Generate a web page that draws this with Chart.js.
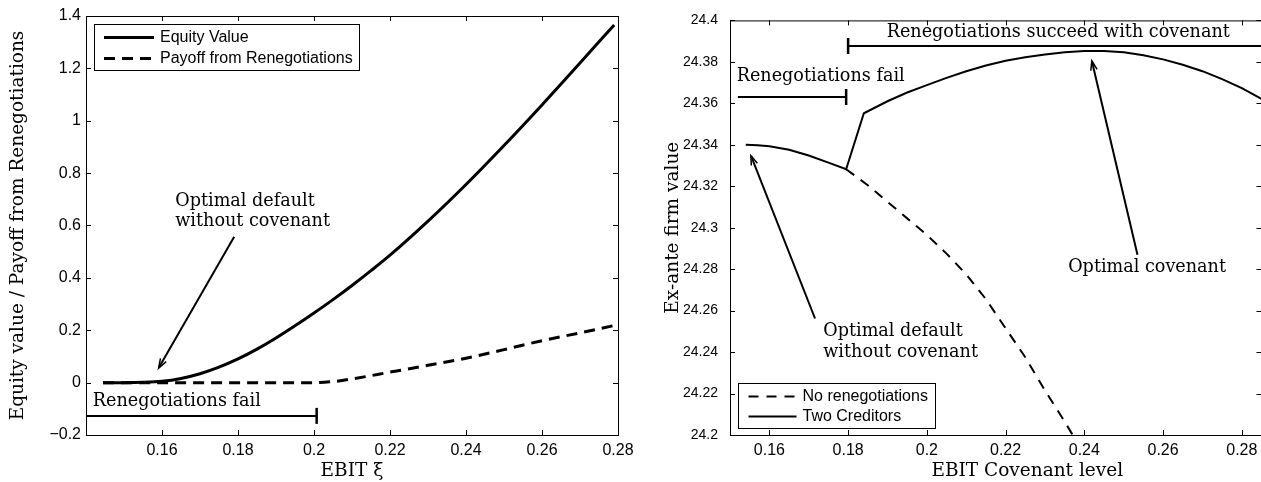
<!DOCTYPE html>
<html>
<head>
<meta charset="utf-8">
<script src="https://cdn.jsdelivr.net/npm/chart.js@4.4.0/dist/chart.umd.min.js"></script>
<style>
  html, body { margin: 0; padding: 0; background: #fff; overflow: hidden; }
  #wrap { position: relative; width: 1261px; height: 482px; overflow: hidden; }
  #leftChart { position: absolute; left: 0; top: 0; }
  #rightChart { position: absolute; left: 640px; top: 0; }
</style>
</head>
<body>
<div id="wrap">
  <canvas id="leftChart" width="640" height="482"></canvas>
  <canvas id="rightChart" width="632" height="482"></canvas>
</div>
<script>
// Left panel: equity value and payoff from renegotiations vs EBIT
const ebitEquity = [0.1445, 0.150, 0.155, 0.160, 0.165, 0.170, 0.175, 0.180, 0.185, 0.190, 0.195, 0.200, 0.205, 0.210, 0.215, 0.220, 0.230, 0.240, 0.250, 0.260, 0.270, 0.279];
const equityValue = [0, 0, 0.001, 0.005, 0.016, 0.034, 0.059, 0.0905, 0.128, 0.1705, 0.217, 0.266, 0.317, 0.371, 0.4275, 0.4865, 0.6165, 0.7565, 0.9055, 1.0605, 1.2205, 1.366];
const ebitPayoff = [0.1445, 0.160, 0.180, 0.200, 0.205, 0.210, 0.220, 0.230, 0.240, 0.250, 0.260, 0.270, 0.279];
const payoffValue = [0, 0, 0, 0, 0.004, 0.014, 0.040, 0.066, 0.093, 0.126, 0.160, 0.190, 0.218];

// Right panel: ex-ante firm value vs covenant level
const covenantTwo = [0.154, 0.157, 0.160, 0.165, 0.170, 0.175, 0.1795, 0.184, 0.190, 0.195, 0.200, 0.205, 0.210, 0.215, 0.220, 0.225, 0.230, 0.235, 0.240, 0.245, 0.250, 0.255, 0.260, 0.265, 0.270, 0.275, 0.280, 0.285];
const valueTwo = [24.3400, 24.3398, 24.3393, 24.3376, 24.3348, 24.3314, 24.3282, 24.3552, 24.3610, 24.3652, 24.3688, 24.3723, 24.3755, 24.3782, 24.3805, 24.3822, 24.3835, 24.3846, 24.3852, 24.3852, 24.3846, 24.3832, 24.3812, 24.3786, 24.3755, 24.3717, 24.3673, 24.3622];
const covenantNoReneg = [0.1795, 0.185, 0.190, 0.195, 0.200, 0.205, 0.210, 0.215, 0.220, 0.225, 0.230, 0.235, 0.2375];
const valueNoReneg = [24.3282, 24.3205, 24.3125, 24.3045, 24.2965, 24.2875, 24.2775, 24.2655, 24.2515, 24.2375, 24.2215, 24.2065, 24.1985];

// tick values
const leftXTicks = [0.16, 0.18, 0.2, 0.22, 0.24, 0.26, 0.28];
const leftYTicks = [-0.2, 0, 0.2, 0.4, 0.6, 0.8, 1, 1.2, 1.4];
const rightXTicks = [0.16, 0.18, 0.2, 0.22, 0.24, 0.26, 0.28];
const rightYTicks = [24.2, 24.22, 24.24, 24.26, 24.28, 24.3, 24.32, 24.34, 24.36, 24.38, 24.4];

// regime spans: [xStart, xEnd], level, which end carries the bracket
const leftSpans = [{ x: [0.14, 0.2007], y: -0.127, cap: 'end' }];
const rightSpans = [
  { x: [0.152, 0.1795], y: 24.363, cap: 'end' },
  { x: [0.18, 0.285], y: 24.3876, cap: 'start' }
];

// text notes and arrows, in data units
const leftNotes = {
  texts: [
    { x: 0.1635, y: 0.692, text: 'Optimal default' },
    { x: 0.1635, y: 0.616, text: 'without covenant' },
    { x: 0.1418, y: -0.073, text: 'Renegotiations fail' }
  ],
  arrows: [{ from: [0.179, 0.5575], to: [0.1591, 0.055] }]
};
const rightNotes = {
  texts: [
    { x: 0.1898, y: 24.3943, text: 'Renegotiations succeed with covenant' },
    { x: 0.1517, y: 24.3729, text: 'Renegotiations fail' },
    { x: 0.1737, y: 24.2498, text: 'Optimal default' },
    { x: 0.1737, y: 24.2400, text: 'without covenant' },
    { x: 0.2359, y: 24.2806, text: 'Optimal covenant' }
  ],
  arrows: [
    { from: [0.1716, 24.2562], to: [0.1553, 24.3348] },
    { from: [0.2535, 24.2870], to: [0.2419, 24.3805] }
  ],
  xTitle: { x: 0.2255, text: 'EBIT Covenant level' }
};

const SERIF = "'DejaVu Serif', serif";
const SANS = "'Liberation Sans', Arial, sans-serif";
const NOTE_SIZE = 17.6;
const TITLE_SIZE = 18.5;
Chart.defaults.font.family = SANS;
Chart.defaults.font.size = 16;
Chart.defaults.color = '#000';

// condensed face for the right y labels when one is installed, else a smaller size
function narrowTickFont() {
  const c = document.createElement('canvas').getContext('2d');
  c.font = '16px ' + SANS;
  const base = c.measureText('24.38').width;
  c.font = "16px 'Liberation Sans Narrow', " + SANS;
  if (c.measureText('24.38').width < base - 3) {
    return { family: "'Liberation Sans Narrow', " + SANS, size: 16 };
  }
  return { family: SANS, size: 14 };
}

const pts = (xs, ys) => xs.map((x, i) => ({ x, y: ys[i] }));
const fmt = v => String(+v.toFixed(3)).replace('-', '\u2212');

function spanDatasets(spans, width) {
  return spans.map(s => ({
    data: [{ x: s.x[0], y: s.y }, { x: s.x[1], y: s.y }],
    showLine: true,
    borderColor: '#000',
    borderWidth: width,
    pointStyle: 'line',
    rotation: 90,
    pointBorderWidth: 2.5,
    pointBorderColor: '#000',
    pointRadius: s.cap === 'end' ? [0, 8] : [8, 0],
    pointHoverRadius: 0
  }));
}

function drawArrow(ctx, x1, y1, x2, y2) {
  const ang = Math.atan2(y2 - y1, x2 - x1);
  const len = 10, spread = 0.33;
  ctx.lineWidth = 2;
  ctx.beginPath();
  ctx.moveTo(x1, y1);
  ctx.lineTo(x2 - Math.cos(ang), y2 - Math.sin(ang));
  ctx.stroke();
  ctx.lineWidth = 1.5;
  ctx.beginPath();
  ctx.moveTo(x2 - len * Math.cos(ang - spread), y2 - len * Math.sin(ang - spread));
  ctx.lineTo(x2, y2);
  ctx.lineTo(x2 - len * Math.cos(ang + spread), y2 - len * Math.sin(ang + spread));
  ctx.stroke();
}

// axes box with inward ticks, notes, arrows and the boxed legend
const figurePlugin = {
  id: 'figure',
  afterDraw(chart, args, opts) {
    const { ctx, chartArea: a, scales: { x, y } } = chart;
    ctx.save();
    ctx.strokeStyle = '#000';
    ctx.fillStyle = '#000';
    ctx.lineWidth = 1;
    ctx.strokeRect(a.left + 0.5, a.top + 0.5, a.right - a.left, a.bottom - a.top);
    ctx.beginPath();
    x.ticks.forEach(t => {
      const px = Math.round(x.getPixelForValue(t.value)) + 0.5;
      ctx.moveTo(px, a.bottom); ctx.lineTo(px, a.bottom - 5);
      ctx.moveTo(px, a.top); ctx.lineTo(px, a.top + 5);
    });
    y.ticks.forEach(t => {
      const py = Math.round(y.getPixelForValue(t.value)) + 0.5;
      ctx.moveTo(a.left, py); ctx.lineTo(a.left + 5, py);
      ctx.moveTo(a.right, py); ctx.lineTo(a.right - 5, py);
    });
    ctx.stroke();

    const notes = opts.notes;
    ctx.font = NOTE_SIZE + 'px ' + SERIF;
    ctx.textBaseline = 'middle';
    ctx.textAlign = 'left';
    notes.texts.forEach(n => ctx.fillText(n.text, x.getPixelForValue(n.x), y.getPixelForValue(n.y)));
    notes.arrows.forEach(ar => drawArrow(ctx,
      x.getPixelForValue(ar.from[0]), y.getPixelForValue(ar.from[1]),
      x.getPixelForValue(ar.to[0]), y.getPixelForValue(ar.to[1])));
    if (notes.xTitle) {
      ctx.font = TITLE_SIZE + 'px ' + SERIF;
      ctx.textAlign = 'center';
      ctx.fillText(notes.xTitle.text, x.getPixelForValue(notes.xTitle.x), 471);
    }

    const lg = opts.legend;
    const bx = a.left + lg.dx;
    const by = lg.fromBottom ? a.bottom - lg.dy : a.top + lg.dy;
    ctx.fillStyle = '#fff';
    ctx.fillRect(bx, by, lg.w, lg.h);
    ctx.lineWidth = 1;
    ctx.strokeRect(Math.round(bx) + 0.5, Math.round(by) + 0.5, lg.w, lg.h);
    ctx.fillStyle = '#000';
    ctx.font = '16px ' + SANS;
    ctx.textAlign = 'left';
    lg.rows.forEach((ds, i) => {
      const d = chart.data.datasets[ds];
      const ry = Math.round(by + lg.rowY[i]) + 0.5;
      ctx.lineWidth = d.borderWidth;
      ctx.setLineDash(d.borderDash || []);
      ctx.beginPath();
      ctx.moveTo(bx + lg.lineFrom, ry);
      ctx.lineTo(bx + lg.lineTo, ry);
      ctx.stroke();
      ctx.setLineDash([]);
      ctx.fillText(d.label, bx + lg.textAt, ry);
    });
    ctx.restore();
  }
};

function scaleOpts(min, max, ticks, extra) {
  return Object.assign({
    type: 'linear', min, max,
    grid: { display: false, drawTicks: false },
    border: { display: false },
    afterBuildTicks: s => { s.ticks = ticks.map(v => ({ value: v })); }
  }, extra);
}

const titleFont = { family: SERIF, size: TITLE_SIZE };

// left chart
new Chart(document.getElementById('leftChart'), {
  type: 'scatter',
  data: {
    datasets: [
      { label: 'Equity Value', data: pts(ebitEquity, equityValue), showLine: true, borderColor: '#000', borderWidth: 3, pointRadius: 0, cubicInterpolationMode: 'monotone' },
      { label: 'Payoff from Renegotiations', data: pts(ebitPayoff, payoffValue), showLine: true, borderColor: '#000', borderWidth: 3, borderDash: [11, 7], pointRadius: 0, cubicInterpolationMode: 'monotone' },
      ...spanDatasets(leftSpans, 2)
    ]
  },
  options: {
    responsive: false,
    animation: false,
    layout: { padding: { top: 16, right: 22, left: 0, bottom: 0 } },
    plugins: {
      legend: { display: false },
      tooltip: { enabled: false },
      figure: {
        notes: leftNotes,
        legend: { dx: 8, dy: 7.5, w: 265, h: 46, rows: [0, 1], rowY: [13.5, 34.5], lineFrom: 10, lineTo: 60, textAt: 66 }
      }
    },
    scales: {
      x: scaleOpts(0.14, 0.28, leftXTicks, {
        afterFit: s => { s.height = 47; },
        ticks: { callback: v => fmt(v), autoSkip: false, maxRotation: 0, padding: 6 },
        title: { display: true, text: 'EBIT \u03BE', font: titleFont, padding: { top: 0, bottom: 0 } }
      }),
      y: scaleOpts(-0.2, 1.4, leftYTicks, {
        afterFit: s => { s.width = 86; },
        ticks: { callback: v => fmt(v), autoSkip: false, padding: 5 },
        title: { display: true, text: 'Equity value / Payoff from Renegotiations', font: titleFont, padding: { top: 7, bottom: 0 } }
      })
    }
  },
  plugins: [figurePlugin]
});

// right chart
new Chart(document.getElementById('rightChart'), {
  type: 'scatter',
  data: {
    datasets: [
      { label: 'Two Creditors', data: pts(covenantTwo, valueTwo), showLine: true, borderColor: '#000', borderWidth: 2, pointRadius: 0, tension: 0 },
      { label: 'No renegotiations', data: pts(covenantNoReneg, valueNoReneg), showLine: true, borderColor: '#000', borderWidth: 2, borderDash: [10, 8], pointRadius: 0, tension: 0 },
      ...spanDatasets(rightSpans, 2)
    ]
  },
  options: {
    responsive: false,
    animation: false,
    layout: { padding: { top: 16, right: 10, left: 0, bottom: 0 } },
    plugins: {
      legend: { display: false },
      tooltip: { enabled: false },
      figure: {
        notes: rightNotes,
        legend: { dx: 8, dy: 52.5, fromBottom: true, w: 197, h: 45, rows: [1, 0], rowY: [13, 33], lineFrom: 10.5, lineTo: 58.5, textAt: 64.5 }
      }
    },
    scales: {
      x: scaleOpts(0.15, 0.285, rightXTicks, {
        afterFit: s => { s.height = 47; },
        ticks: { callback: v => fmt(v), autoSkip: false, maxRotation: 0, padding: 6 }
      }),
      y: scaleOpts(24.2, 24.4, rightYTicks, {
        afterFit: s => { s.width = 90; },
        ticks: { callback: v => fmt(v), autoSkip: false, padding: 12, font: narrowTickFont() },
        title: { display: true, text: 'Ex-ante firm value', font: titleFont, padding: { top: 22, bottom: 0 } }
      })
    }
  },
  plugins: [figurePlugin]
});
</script>
</body>
</html>
